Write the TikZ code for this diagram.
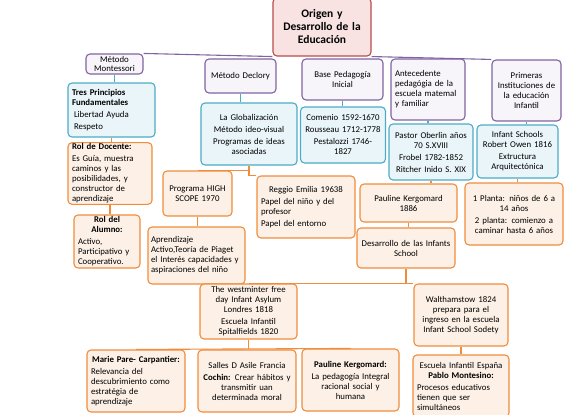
\documentclass[tikz,border=0pt]{standalone}
\usepackage{fontspec}
\setmainfont{Carlito}
\definecolor{edlila}{RGB}{128,100,162}
\definecolor{edlilafill}{RGB}{247,245,250}
\definecolor{edteal}{RGB}{75,172,198}
\definecolor{edtealfill}{RGB}{234,245,249}
\definecolor{edorange}{RGB}{240,140,60}
\definecolor{edorangefill}{RGB}{253,241,231}
\definecolor{edred}{RGB}{185,75,75}
\definecolor{edredfill}{RGB}{248,226,226}
\setlength{\parindent}{0pt}
\newcommand{\midline}[1]{\makebox[\hsize][c]{#1}}

\begin{document}
\begin{tikzpicture}[x=1pt, y=-1pt,
    box/.style={draw, rounded corners=4pt, line width=1.1pt, inner xsep=4pt, inner ysep=2pt, align=center,
      font=\fontsize{8.8}{10}\selectfont},
    lilabox/.style={box, draw=edlila, fill=edlilafill},
    tealbox/.style={box, draw=edteal, fill=edtealfill},
    orangebox/.style={box, draw=edorange, fill=edorangefill},
    lilaline/.style={draw=edlila, line width=1.1pt},
    tealline/.style={draw=edteal, line width=1.1pt},
    orangeline/.style={draw=edorange, line width=1.1pt}]
      \useasboundingbox (0,0) rectangle (574,415);

      % raiz
      \node [box, draw=edred, fill=edredfill, text width=90pt, minimum height=58pt,
        font=\fontsize{11.5}{13}\selectfont\bfseries] (root) at (322,27) {Origen y\\Desarrollo de la\\Educación};

      % primer nivel
      \node [lilabox, text width=49pt, minimum height=20pt, inner ysep=0pt,
        font=\fontsize{8.8}{9.4}\selectfont] (mont) at (114.5,64) {Método\\Montessori};
      \node [lilabox, text width=63pt, minimum height=34pt] (decl) at (240.5,76) {Método Declory};
      \node [lilabox, text width=73pt, minimum height=41pt] (base) at (342.5,79.5) {Base Pedagogía\\Inicial};
      \node [lilabox, text width=66pt, minimum height=61pt, align=left] (ante) at (428,89.5)
        {Antecedente\\pedagógia de la\\escuela matemal\\y familiar};
      \node [lilabox, text width=61pt, minimum height=61pt] (prim) at (526.5,90.5)
        {Primeras\\Instituciones de\\la educación\\Infantil};

      % segundo nivel
      \node [tealbox, text width=79pt, minimum height=54pt, align=left] (tres) at (111.5,110)
        {\textbf{Tres Principios}\\\textbf{Fundamentales}\\[2pt]\hspace*{2pt}Libertad Ayuda\\[2pt]\hspace*{2pt}Respeto};
      \node [tealbox, text width=88pt, minimum height=62pt] (glob) at (249,134)
        {La Globalización\\[2pt]Método ideo-visual\\[2pt]Programas de ideas\\asociadas};
      \node [tealbox, text width=77pt, minimum height=56pt] (comen) at (343,135)
        {Comenio 1592-1670\\[2pt]Rousseau 1712-1778\\[2pt]Pestalozzi 1746-\\1827};
      \node [tealbox, text width=76pt, minimum height=56pt] (past) at (431,152)
        {Pastor Oberlin años\\70 S.XVIII\\[2pt]Frobel 1782-1852\\[2pt]Ritcher Inido S. XIX};
      \node [tealbox, text width=73pt, minimum height=53pt] (infs) at (517.5,151.5)
        {Infant Schools\\Robert Owen 1816\\[2pt]Extructura\\Arquitectónica};

      % tercer nivel
      \node [orangebox, text width=76pt, minimum height=61pt, align=left, inner ysep=1pt] (doc) at (110,173.5)
        {\textbf{Rol de Docente:}\\[2pt]Es Guía, muestra\\caminos y las\\posibilidades, y\\constructor de\\aprendizaje};
      \node [orangebox, text width=58pt, minimum height=53pt, align=left, inner ysep=1pt] (alum) at (107,241.5)
        {\midline{\textbf{Rol del}}\\\midline{\textbf{Alumno:}}\\[2pt]Activo,\\Participativo y\\Cooperativo.};
      \node [orangebox, text width=61pt, minimum height=45pt] (hs) at (197.5,193.5) {Programa HIGH\\SCOPE 1970};
      \node [orangebox, text width=91pt, inner xsep=3pt, minimum height=57pt, align=left] (apr) at (196.5,255.5)
        {Aprendizaje\\Activo,Teoría de Piaget\\el Interés capacidades y\\aspiraciones del niño};
      \node [orangebox, text width=90pt, minimum height=62pt, align=left] (regg) at (306,207)
        {\midline{Reggio Emilia 19638}\\[2pt]Papel del niño y del\\profesor\\[2pt]Papel del entorno};
      \node [orangebox, text width=89pt, minimum height=38pt] (pk1) at (408.5,203) {Pauline Kergomard\\1886};
      \node [orangebox, text width=92pt, inner xsep=3pt, minimum height=40pt] (desa) at (406,248)
        {Desarrollo de las Infants\\School};
      \node [orangebox, text width=90pt, minimum height=62pt] (plan) at (514,214)
        {1 Planta: niños de 6 a\\14 años\\[2pt]2 planta: comienzo a\\caminar hasta 6 años};
      \node [orangebox, text width=89pt, minimum height=55pt, inner ysep=1pt] (west) at (248.5,311.5)
        {The westminter free\\day Infant Asylum\\Londres 1818\\[2pt]Escuela Infantil\\Spitalfields 1820};
      \node [orangebox, text width=86pt, minimum height=62pt] (walt) at (461,315)
        {Walthamstow 1824\\prepara para el\\ingreso en la escuela\\Infant School Sodety};

      % cuarto nivel
      \node [orangebox, text width=90pt, minimum height=62pt, align=left] (marie) at (136,381)
        {\midline{\textbf{Marie Pare- Carpantier:}}\\[2pt]Relevancia del\\descubrimiento como\\estratégia de\\aprendizaje};
      \node [orangebox, text width=90pt, minimum height=62pt] (salle) at (247,381)
        {Salles D Asile Francia\\[2pt]\textbf{Cochin:} Crear hábitos y\\transmitir uan\\determinada moral};
      \node [orangebox, text width=89pt, minimum height=62pt] (pk2) at (350.5,380)
        {\textbf{Pauline Kergomard:}\\[2pt]La pedagogía Integral\\racional social y\\humana};
      \node [orangebox, text width=88pt, minimum height=62pt, align=left, inner ysep=1pt] (esp) at (461,386)
        {\midline{Escuela Infantil España}\\\midline{\textbf{Pablo Montesino:}}\\[2pt]Procesos educativos\\tienen que ser\\simultáneos};

      \draw [lilaline] (mont.north east) -- (root.south west);
      \draw [lilaline] (root.south east) -- (prim.north west);
      \draw [tealline] (mont.south) -- (mont.south |- tres.north);
      \draw [tealline] (decl.south) -- (decl.south |- glob.north);
      \draw [tealline] (base.south) -- (base.south |- comen.north);
      \draw [tealline] (ante.south) -- (ante.south |- past.north);
      \draw [tealline] (prim.south) -- (prim.south |- infs.north);
      \draw [orangeline] (tres.south) -- (tres.south |- doc.north);
      \draw [orangeline] (doc.south) -- (doc.south |- alum.north);
      \draw [orangeline] (glob.south) |- (hs.north);
      \draw [orangeline] (glob.south) |- (regg.north west);
      \draw [orangeline] (hs.south) -- (hs.south |- apr.north);
      \draw [orangeline] (past.south) -- (past.south |- pk1.north);
      \draw [orangeline] (pk1.south) -- (pk1.south |- desa.north);
      \draw [orangeline] (infs.south) -- (infs.south |- plan.north);
      \draw [orangeline] (desa.south) |- (west.north);
      \draw [orangeline] (desa.south) |- (walt.north west);
      \draw [orangeline] (west.south) -- (west.south |- salle.north);
      \draw [orangeline] (marie.north) -- (pk2.north);
      \draw [orangeline] (walt.south) -- (walt.south |- esp.north);
    \end{tikzpicture}
\end{document}
